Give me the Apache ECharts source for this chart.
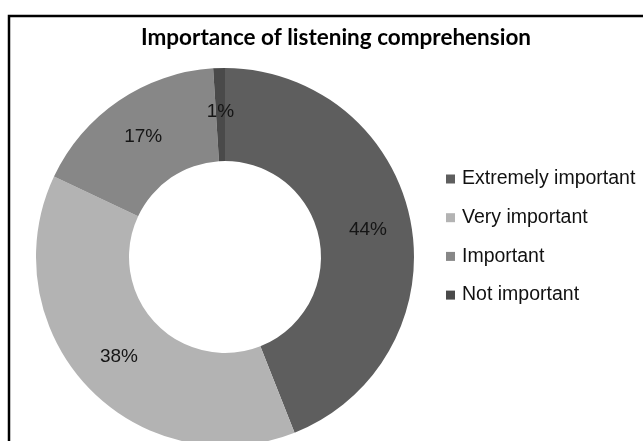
<!DOCTYPE html>
<html>
<head>
<meta charset="utf-8">
<script src="https://cdn.jsdelivr.net/npm/echarts@6/dist/echarts.min.js"></script>
<style>
  html, body { margin: 0; padding: 0; background: #fff; }
  #chart { width: 643px; height: 441px; }
</style>
</head>
<body>
<div id="chart"></div>
<script>
// Survey answers: how important listening comprehension is
const categories = ['Extremely important', 'Very important', 'Important', 'Not important'];
const shares = [44, 38, 17, 1];
const sliceColors = ['#5e5e5e', '#b3b3b3', '#878787', '#4a4a4a'];

const chart = echarts.init(document.getElementById('chart'), null, { renderer: 'canvas' });

chart.setOption({
  animation: false,
  backgroundColor: '#ffffff',
  title: {
    text: 'Importance of listening comprehension',
    left: 331,
    top: 21,
    textAlign: 'center',
    textStyle: {
      fontFamily: 'Lato',
      fontWeight: 'bold',
      fontSize: 22.5,
      color: '#000000'
    }
  },
  legend: {
    orient: 'vertical',
    left: 441,
    top: 164,
    itemWidth: 9,
    itemHeight: 9,
    itemGap: 18.7,
    icon: 'rect',
    textStyle: {
      fontFamily: 'Liberation Sans',
      fontSize: 19.5,
      color: '#111111',
      padding: [0, 0, 0, 2]
    },
    data: categories
  },
  graphic: [{
    type: 'rect',
    shape: { x: 9, y: 16, width: 700, height: 500 },
    style: { fill: 'none', stroke: '#000000', lineWidth: 2.5 },
    silent: true,
    z: 10
  }],
  series: [{
    type: 'pie',
    center: [225, 257],
    radius: [96, 189],
    startAngle: 90,
    clockwise: true,
    avoidLabelOverlap: false,
    label: {
      show: true,
      position: 'inside',
      formatter: '{c}%',
      fontFamily: 'Liberation Sans',
      fontSize: 19,
      color: '#151515'
    },
    labelLine: { show: false },
    itemStyle: { borderWidth: 0 },
    emphasis: { disabled: true },
    data: categories.map((name, i) => ({
      name: name,
      value: shares[i],
      itemStyle: { color: sliceColors[i] }
    }))
  }]
});
</script>
</body>
</html>
